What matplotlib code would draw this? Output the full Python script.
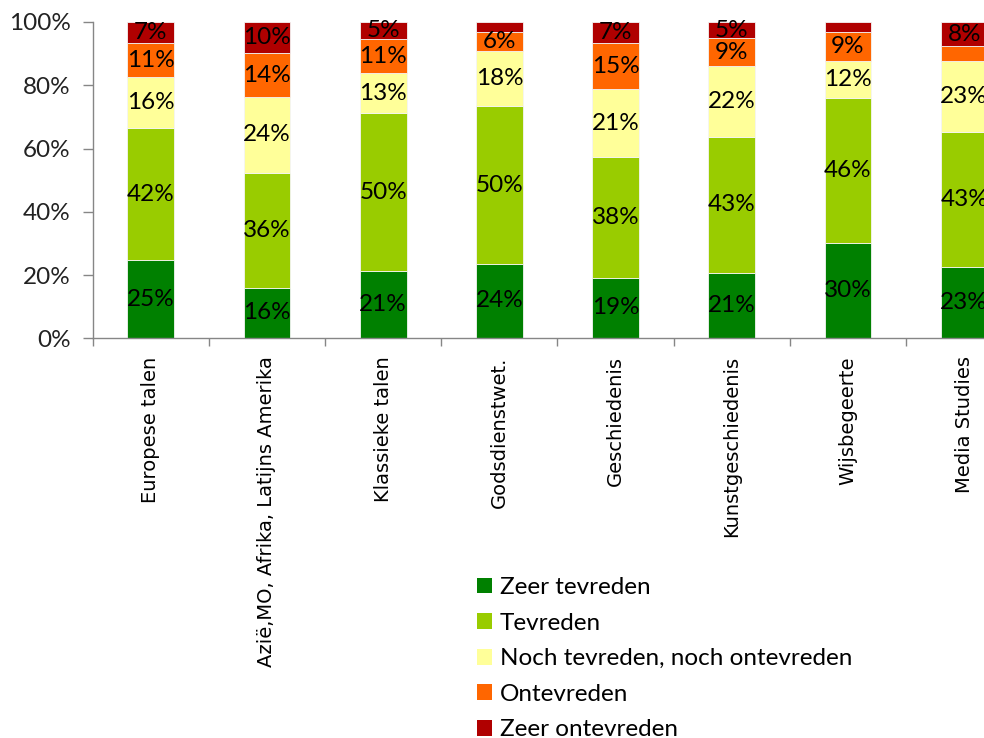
import numpy as np
import matplotlib
matplotlib.use('Agg')
import matplotlib.pyplot as plt
from matplotlib.patches import Patch

# Categories (studies) and stacked satisfaction shares in percent
categories = ['Europese talen', 'Azië,MO, Afrika, Latijns Amerika', 'Klassieke talen',
              'Godsdienstwet.', 'Geschiedenis', 'Kunstgeschiedenis', 'Wijsbegeerte',
              'Media Studies']
zeer_tevreden = [24.7, 16.0, 21.4, 23.6, 19.2, 20.6, 30.1, 22.6]
tevreden = [41.8, 36.3, 49.7, 49.7, 38.2, 43.1, 45.8, 42.6]
neutraal = [16.1, 24.0, 12.7, 17.6, 21.3, 22.4, 11.9, 22.6]
ontevreden = [10.7, 13.8, 10.8, 6.0, 14.6, 8.7, 9.0, 4.6]
zeer_ontevreden = [6.7, 9.9, 5.4, 3.1, 6.7, 5.2, 3.2, 7.6]

series_names = ['Zeer tevreden', 'Tevreden', 'Noch tevreden, noch ontevreden',
                'Ontevreden', 'Zeer ontevreden']
series_vals = [zeer_tevreden, tevreden, neutraal, ontevreden, zeer_ontevreden]
colors = ['#008000', '#99CC00', '#FFFF99', '#FF6600', '#B00000']

LBL_FONT = 'Lato'
FS = 17.5

fig = plt.figure(figsize=(9.84, 7.38), dpi=100)
# axes runs past the right edge of the figure, like the cropped original
ax = fig.add_axes([0.0942, 0.5416, 0.9447, 0.4286])

x = np.arange(len(categories))
bottom = np.zeros(len(categories))
for name, vals, col in zip(series_names, series_vals, colors):
    vals = np.array(vals)
    ax.bar(x, vals, 0.404, bottom=bottom, color=col, edgecolor='#f4f4f4',
           linewidth=0.6, label=name)
    for xi, b, v in zip(x, bottom, vals):
        if v >= 5:  # tiny slices carry no label
            ax.text(xi, b + v / 2, f'{v:.0f}%', ha='center', va='center',
                    fontsize=FS, family=LBL_FONT, color='black')
    bottom += vals

ax.set_xlim(-0.5, len(categories) - 0.5)
ax.set_ylim(0, 100)
ax.set_yticks(np.arange(0, 101, 20))
ax.set_yticklabels([f'{v}%' for v in range(0, 101, 20)], family=LBL_FONT, fontsize=FS)
ax.tick_params(axis='y', length=7, width=1, color='#868686', pad=9, labelcolor='#222222')

ax.set_xticks(x)
ax.set_xticklabels(categories, rotation=90, fontsize=14, family='DejaVu Sans',
                   va='top', ha='center')
ax.tick_params(axis='x', which='major', length=0, pad=13)
ax.set_xticks(np.arange(-0.5, len(categories), 1.0), minor=True)
ax.tick_params(axis='x', which='minor', length=6, width=1, color='#868686')

for s in ['top', 'right']:
    ax.spines[s].set_visible(False)
for s in ['left', 'bottom']:
    ax.spines[s].set_color('#868686')
    ax.spines[s].set_linewidth(1.0)

handles = [Patch(facecolor=c, edgecolor='none') for c in colors]
fig.legend(handles, series_names, loc='upper left', bbox_to_anchor=(0.485, 0.218),
           frameon=False, prop={'family': LBL_FONT, 'size': FS},
           handlelength=0.62, handleheight=0.62, handletextpad=0.3, labelspacing=0.6,
           borderaxespad=0, borderpad=0)

fig.savefig('out.png', dpi=100)
